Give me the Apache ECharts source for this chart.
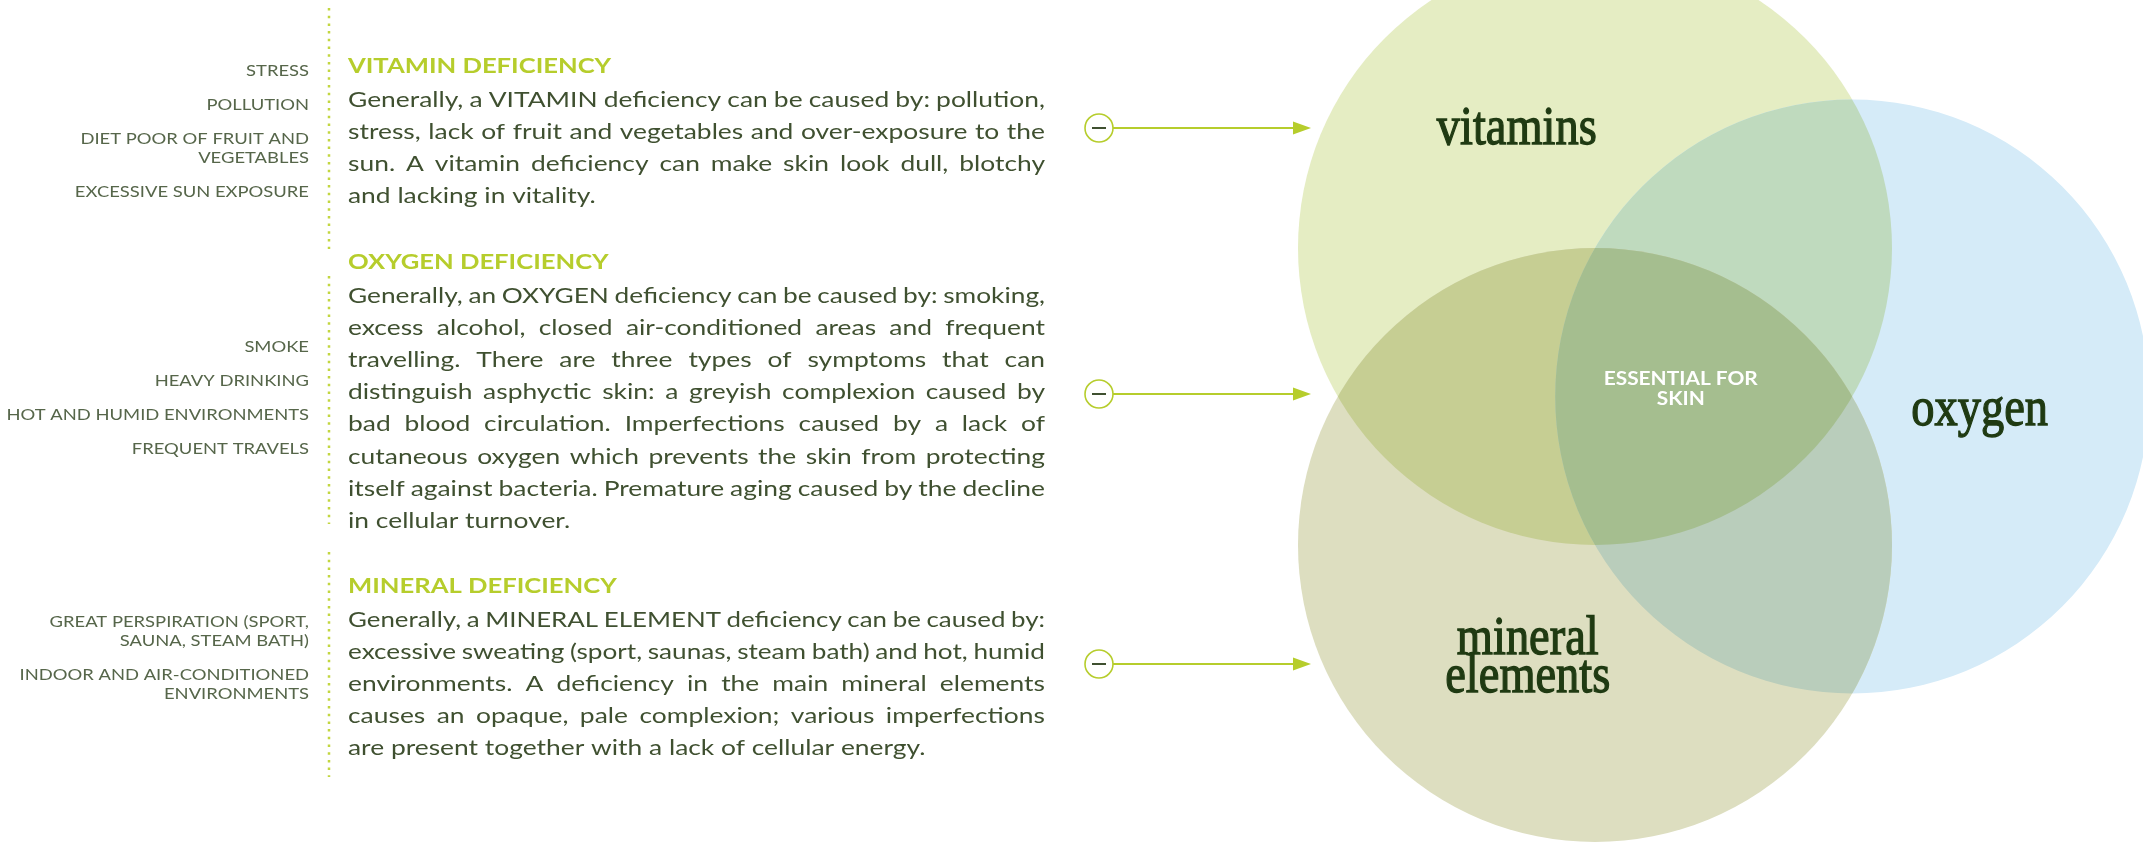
<!DOCTYPE html>
<html>
<head>
<meta charset="UTF-8">
<title>Essential for skin</title>
<style>
  html, body { margin: 0; padding: 0; background: #fff; }
  #chart { width: 2143px; height: 846px; }
</style>
</head>
<body>
<div id="chart"></div>
<script src="https://cdn.jsdelivr.net/npm/echarts@6/dist/echarts.min.js"></script>
<script>
// the three sets, in units of one circle radius
var setNames = ['vitamins', 'oxygen', 'mineral\nelements'];
var setX = [0, 0.866, 0];
var setY = [0.5, 0, -0.5];
var setR = [1, 1, 1];
var centreLabel = 'ESSENTIAL FOR\nSKIN';

var sectionTitles = ['VITAMIN DEFICIENCY', 'OXYGEN DEFICIENCY', 'MINERAL DEFICIENCY'];
var causes = [
    ['STRESS', 'POLLUTION', 'DIET POOR OF FRUIT AND\nVEGETABLES', 'EXCESSIVE SUN EXPOSURE'],
    ['SMOKE', 'HEAVY DRINKING', 'HOT AND HUMID ENVIRONMENTS', 'FREQUENT TRAVELS'],
    ['GREAT PERSPIRATION (SPORT,\nSAUNA, STEAM BATH)', 'INDOOR AND AIR-CONDITIONED\nENVIRONMENTS']
];
var bodyLines = [
    [
        'Generally, a VITAMIN deficiency can be caused by: pollution,',
        'stress, lack of fruit and vegetables and over-exposure to the',
        'sun. A vitamin deficiency can make skin look dull, blotchy',
        'and lacking in vitality.'
    ],
    [
        'Generally, an OXYGEN deficiency can be caused by: smoking,',
        'excess alcohol, closed air-conditioned areas and frequent',
        'travelling. There are three types of symptoms that can',
        'distinguish asphyctic skin: a greyish complexion caused by',
        'bad blood circulation. Imperfections caused by a lack of',
        'cutaneous oxygen which prevents the skin from protecting',
        'itself against bacteria. Premature aging caused by the decline',
        'in cellular turnover.'
    ],
    [
        'Generally, a MINERAL ELEMENT deficiency can be caused by:',
        'excessive sweating (sport, saunas, steam bath) and hot, humid',
        'environments. A deficiency in the main mineral elements',
        'causes an opaque, pale complexion; various imperfections',
        'are present together with a lack of cellular energy.'
    ]
];

// colours & layout
var setColors = ['#e5edc3', '#d5ebf8', '#dddec0'];
var GREEN = '#b6cd2c';
var BODY = '#3f5030';
var CAUSE = '#56664a';
var INK = '#1f3a12';
var SANS = 'Lato, "Open Sans", sans-serif';
var SERIF = '"Liberation Serif", "DejaVu Serif", serif';

var titleY = [67, 263, 587];
var causeY = [71, 347, 622];
var arrowY = [128, 394, 664];
var dots = [[8, 249], [276, 524], [552, 777]];
var labelNudge = [[-11, 3], [-7, 19], [0, 2]];
var TEXT_L = 348, TEXT_R = 1045, CAUSE_R = 309;
var BODY_SIZE = 22, BODY_STRETCH = 1.2;

var measure = document.createElement('canvas').getContext('2d');

function justified(line, y, last) {
    measure.font = 'normal normal ' + BODY_SIZE + 'px ' + SANS;
    var words = line.split(' ');
    var w = words.map(function (s) { return measure.measureText(s).width; });
    var sum = w.reduce(function (a, b) { return a + b; }, 0);
    var space = measure.measureText(' ').width;
    var room = TEXT_R - TEXT_L;
    var sx = Math.min(BODY_STRETCH, (room - space * (words.length - 1)) / sum);
    var gap = last ? space * sx : (room - sum * sx) / (words.length - 1);
    var x = TEXT_L;
    return words.map(function (s, i) {
        var el = {
            type: 'text', x: x, y: y, scaleX: sx, silent: true,
            style: { text: s, fontSize: BODY_SIZE, fontFamily: SANS, fill: BODY, verticalAlign: 'middle' }
        };
        x += w[i] * sx + gap;
        return el;
    });
}

var graphics = [];
sectionTitles.forEach(function (t, s) {
    graphics.push({
        type: 'text', x: TEXT_L, y: titleY[s], scaleX: 1.28, silent: true,
        style: { text: t, fontSize: 20, fontWeight: 'bold', fontFamily: SANS, fill: GREEN, verticalAlign: 'middle' }
    });
    bodyLines[s].forEach(function (line, i) {
        graphics = graphics.concat(justified(line, titleY[s] + 32.5 + i * 32.2, i === bodyLines[s].length - 1));
    });
    var y = causeY[s];
    causes[s].forEach(function (c) {
        var n = c.split('\n').length;
        graphics.push({
            type: 'text', x: CAUSE_R, y: y - 9.5, scaleX: 1.15, silent: true,
            style: { text: c, fontSize: 16, fontFamily: SANS, fill: CAUSE, align: 'right', verticalAlign: 'top', lineHeight: 19 }
        });
        y += n * 19 + 15;
    });
    graphics.push({
        type: 'line', silent: true,
        shape: { x1: 329, y1: dots[s][0], x2: 329, y2: dots[s][1] },
        style: { stroke: '#c2d640', lineWidth: 2.5, lineDash: [2.5, 5.2] }
    });
    var ay = arrowY[s];
    graphics.push(
        { type: 'circle', shape: { cx: 1099, cy: ay, r: 14 }, style: { fill: '#fff', stroke: GREEN, lineWidth: 1.6 }, silent: true },
        { type: 'line', shape: { x1: 1092, y1: ay, x2: 1106, y2: ay }, style: { stroke: BODY, lineWidth: 2 }, silent: true },
        { type: 'line', shape: { x1: 1113, y1: ay, x2: 1296, y2: ay }, style: { stroke: GREEN, lineWidth: 2 }, silent: true },
        { type: 'polygon', shape: { points: [[1293, ay - 6.5], [1311, ay], [1293, ay + 6.5]] }, style: { fill: GREEN }, silent: true }
    );
});

// multiply two hex colours, like overlapping transparent inks
function multiply(a, b) {
    var out = '#';
    for (var k = 1; k < 7; k += 2) {
        var v = Math.round(parseInt(a.substr(k, 2), 16) * parseInt(b.substr(k, 2), 16) / 255);
        out += (v < 16 ? '0' : '') + v.toString(16);
    }
    return out;
}
function bitCount(m) { var c = 0; while (m) { c += m & 1; m >>= 1; } return c; }

var vennData = setNames.map(function (n, i) { return [setX[i], setY[i], setR[i]]; });
var cx = setX.reduce(function (a, b) { return a + b; }, 0) / setX.length;
var cy = setY.reduce(function (a, b) { return a + b; }, 0) / setY.length;

var chart = echarts.init(document.getElementById('chart'));
chart.setOption({
    backgroundColor: '#fff',
    animation: false,
    grid: { left: 1149.5, top: 10.4, width: 980.1, height: 772.2 },
    xAxis: { type: 'value', min: -1.5, max: 1.8, show: false },
    yAxis: { type: 'value', min: -1.3, max: 1.3, show: false },
    graphic: graphics,
    series: [
        {
            type: 'custom', name: 'sets', silent: true, clip: false,
            data: vennData,
            renderItem: function (params, api) {
                var i = params.dataIndex;
                function circ(k) {
                    var c = api.coord([vennData[k][0], vennData[k][1]]);
                    return { cx: c[0], cy: c[1], r: api.size([vennData[k][2], 0])[0] };
                }
                var me = circ(i);
                // paint this circle, then its overlaps with the earlier ones
                var subsets = [];
                for (var m = 0; m < (1 << i); m++) subsets.push(m);
                subsets.sort(function (a, b) { return bitCount(a) - bitCount(b); });
                var children = subsets.map(function (m) {
                    var fill = setColors[i];
                    var members = [];
                    for (var k = 0; k < i; k++) {
                        if (m & (1 << k)) { members.push(k); fill = multiply(fill, setColors[k]); }
                    }
                    var el = { type: 'circle', shape: me, style: { fill: fill } };
                    members.forEach(function (k) {
                        el = { type: 'group', clipPath: { type: 'circle', shape: circ(k) }, children: [el] };
                    });
                    return el;
                });
                return { type: 'group', children: children };
            }
        },
        {
            type: 'custom', name: 'labels', silent: true, clip: false, z: 3,
            data: vennData,
            renderItem: function (params, api) {
                var i = params.dataIndex;
                var dx = api.value(0) - cx, dy = api.value(1) - cy;
                var len = Math.sqrt(dx * dx + dy * dy);
                var k = 1.03 * api.value(2);
                var p = api.coord([cx + dx / len * k, cy + dy / len * k]);
                return {
                    type: 'text', x: p[0] + labelNudge[i][0], y: p[1] - 5 + labelNudge[i][1], scaleX: 0.86,
                    style: {
                        text: setNames[i], fontSize: 54, fontFamily: SERIF,
                        fill: INK, stroke: INK, lineWidth: 1.3,
                        align: 'center', verticalAlign: 'middle', lineHeight: 38
                    }
                };
            }
        },
        {
            type: 'custom', name: 'centre', silent: true, clip: false, z: 3,
            data: [[cx, cy]],
            renderItem: function (params, api) {
                var p = api.coord([api.value(0), api.value(1)]);
                return {
                    type: 'text', x: p[0], y: p[1] - 7, scaleX: 1.16,
                    style: {
                        text: centreLabel, fontSize: 18, fontWeight: 'bold', fontFamily: SANS,
                        fill: '#fff', align: 'center', verticalAlign: 'middle', lineHeight: 20
                    }
                };
            }
        }
    ]
});
</script>
</body>
</html>
